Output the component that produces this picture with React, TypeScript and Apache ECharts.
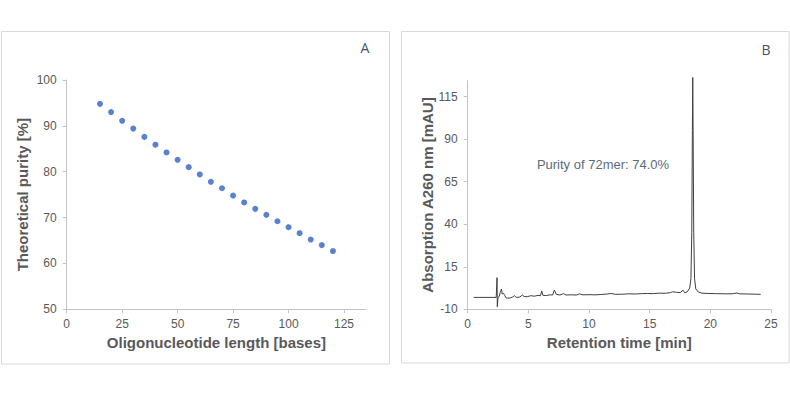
import React, { useEffect, useRef } from "react";
import * as echarts from "echarts";

// Panel A: theoretical purity vs oligonucleotide length
const lengths = [15, 20, 25, 30, 35, 40, 45, 50, 55, 60, 65, 70, 75, 80, 85, 90, 95, 100, 105, 110, 115, 120];
const purity = [94.8, 93.0, 91.1, 89.4, 87.6, 85.9, 84.2, 82.6, 81.0, 79.4, 77.8, 76.4, 74.8, 73.3, 71.9, 70.6, 69.2, 67.9, 66.6, 65.2, 64.0, 62.7];
const xTicksA = [0, 25, 50, 75, 100, 125];
const yTicksA = [50, 60, 70, 80, 90, 100];

// Panel B: chromatogram
const retentionTime = [0.5, 1.0, 1.5, 2.0, 2.35, 2.42, 2.44, 2.5, 2.6, 2.7, 2.78, 2.85, 2.95, 3.05, 3.15, 3.3, 3.5, 3.7, 3.85, 4.0, 4.3, 4.5, 4.65, 4.9, 5.2, 5.5, 5.8, 6.0, 6.1, 6.2, 6.5, 6.8, 7.0, 7.15, 7.3, 7.6, 7.9, 8.1, 8.5, 9.0, 9.2, 9.5, 10.0, 10.5, 11.0, 11.5, 11.8, 12.2, 12.8, 13.3, 13.8, 14.3, 14.8, 15.3, 15.8, 16.3, 16.7, 16.9, 17.2, 17.5, 17.75, 17.9, 18.1, 18.3, 18.4, 18.47, 18.52, 18.55, 18.58, 18.63, 18.7, 18.8, 19.0, 19.3, 19.8, 20.5, 21.2, 21.8, 22.2, 22.4, 23.0, 23.6, 24.15];
const absorbance = [-3.0, -3.0, -3.0, -3.0, -3.0, 8.6, -8.5, -3.0, -2.5, 0.5, 1.9, -1.0, -0.6, -1.8, -3.2, -3.5, -3.3, -2.8, -2.0, -3.0, -2.8, -1.6, -2.5, -2.6, -2.0, -2.3, -1.8, -2.0, 0.8, -1.8, -1.9, -1.5, -1.6, 1.3, -1.2, -1.6, -0.8, -1.6, -1.5, -1.6, -0.9, -1.5, -1.4, -1.5, -1.3, -1.0, -0.7, -1.2, -1.1, -0.9, -1.0, -0.8, -0.7, -0.8, -0.5, -0.6, -0.2, 0.3, 0.0, -0.2, 1.2, -0.3, 0.3, 2.5, 8.0, 35.0, 95.0, 126.3, 95.0, 35.0, 8.0, 2.0, 0.2, -0.5, -0.7, -0.8, -0.9, -0.9, -0.4, -0.9, -1.0, -1.1, -1.2];
const xTicksB = [0, 5, 10, 15, 20, 25];
const yTicksB = [-10, 15, 40, 65, 90, 115];

const labelColor = "#595959";
const axisColor = "#c4c4c4";
const font = "'Liberation Sans', Arial, sans-serif";

export default function App() {
  const ref = useRef<HTMLDivElement>(null);
  useEffect(() => {
    if (!ref.current) return;
    const chart = echarts.init(ref.current, null, { renderer: "svg" });
    const axisLine = { show: true, onZero: false, lineStyle: { color: axisColor, width: 1 } };
    const axisTick = (vals: number[]) => ({ show: true, length: 4, lineStyle: { color: axisColor }, customValues: vals });
    const axisLabel = (vals: number[], margin: number) => ({
      color: labelColor,
      fontSize: 12,
      fontFamily: font,
      margin,
      customValues: vals,
    });
    const nameStyle = { color: labelColor, fontSize: 15, fontWeight: "bold" as const, fontFamily: font };
    chart.setOption({
      animation: false,
      grid: [
        { left: 66.7, top: 80, width: 299.5, height: 229.3 },
        { left: 467.7, top: 80.7, width: 303.3, height: 228.6 },
      ],
      xAxis: [
        {
          gridIndex: 0, type: "value", min: 0, max: 135,
          axisLine, axisTick: axisTick(xTicksA), axisLabel: axisLabel(xTicksA, 9), splitLine: { show: false },
          name: "Oligonucleotide length [bases]", nameLocation: "middle", nameGap: 26, nameTextStyle: nameStyle,
        },
        {
          gridIndex: 1, type: "value", min: 0, max: 25,
          axisLine, axisTick: axisTick(xTicksB), axisLabel: axisLabel(xTicksB, 9), splitLine: { show: false },
          name: "Retention time [min]", nameLocation: "middle", nameGap: 26, nameTextStyle: nameStyle,
        },
      ],
      yAxis: [
        {
          gridIndex: 0, type: "value", min: 50, max: 100,
          axisLine, axisTick: axisTick(yTicksA), axisLabel: axisLabel(yTicksA, 10), splitLine: { show: false },
          name: "Theoretical purity [%]", nameLocation: "middle", nameGap: 37, nameTextStyle: nameStyle,
        },
        {
          gridIndex: 1, type: "value", min: -10, max: 124.4,
          axisLine, axisTick: axisTick(yTicksB), axisLabel: axisLabel(yTicksB, 10), splitLine: { show: false },
          name: "Absorption A260 nm [mAU]", nameLocation: "middle", nameGap: 33, nameTextStyle: nameStyle,
        },
      ],
      series: [
        {
          type: "scatter", xAxisIndex: 0, yAxisIndex: 0,
          data: lengths.map((l, i) => [l, purity[i]]),
          symbolSize: 6, itemStyle: { color: "#2f62c0" },
        },
        {
          type: "line", xAxisIndex: 1, yAxisIndex: 1, clip: false,
          data: retentionTime.map((t, i) => [t, absorbance[i]]),
          showSymbol: false, lineStyle: { color: "#404040", width: 1 },
        },
      ],
      graphic: [
        { type: "rect", shape: { x: 1.5, y: 31.5, width: 388, height: 332.5 }, style: { fill: "none", stroke: "#d9d9d9", lineWidth: 1 } },
        { type: "rect", shape: { x: 401.5, y: 31.5, width: 387.5, height: 331.5 }, style: { fill: "none", stroke: "#d9d9d9", lineWidth: 1 } },
        { type: "text", x: 365, y: 47, style: { text: "A", fill: "#44546a", fontSize: 14, fontFamily: "'Open Sans', sans-serif", align: "center", verticalAlign: "middle" } },
        { type: "text", x: 766, y: 49, style: { text: "B", fill: "#44546a", fontSize: 14, fontFamily: "'Open Sans', sans-serif", align: "center", verticalAlign: "middle" } },
        { type: "text", x: 603, y: 164, style: { text: "Purity of 72mer: 74.0%", fill: "#5b6b7b", fontSize: 13, fontFamily: font, align: "center", verticalAlign: "middle" } },
      ],
    });
    return () => chart.dispose();
  }, []);
  return <div ref={ref} style={{ position: "fixed", left: 0, top: 0, width: 790, height: 397, background: "#fff" }} />;
}
